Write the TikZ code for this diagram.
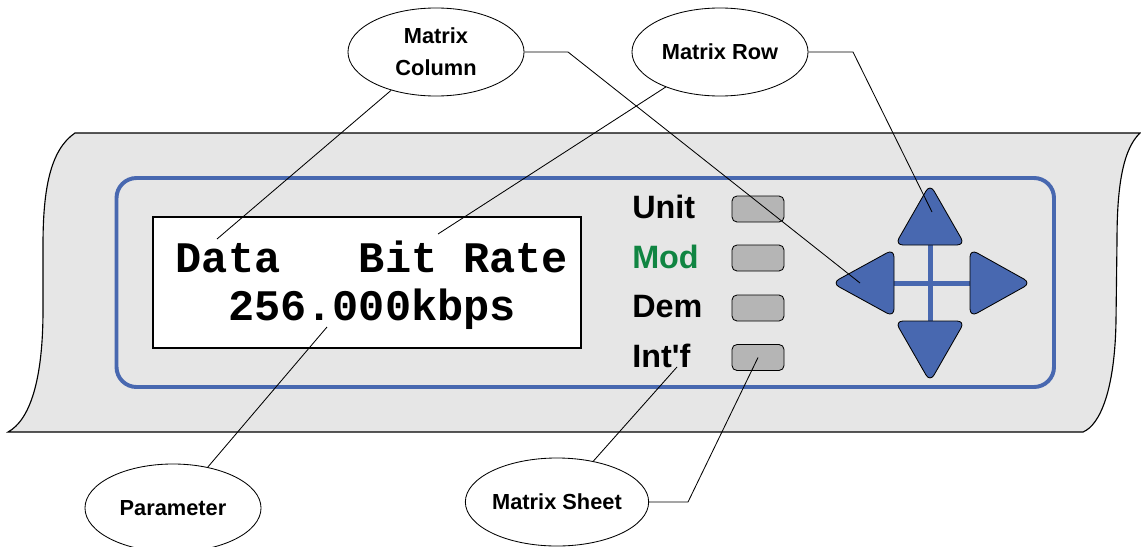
\documentclass[tikz,border=0pt]{standalone}
\usepackage{fontspec}
\setmainfont{Liberation Sans}
\setmonofont{Liberation Mono}
\usetikzlibrary{shapes.geometric}
\definecolor{panelgray}{RGB}{230,230,230}
\definecolor{padblue}{RGB}{72,104,176}
\definecolor{modgreen}{RGB}{16,133,66}
\definecolor{btngray}{RGB}{181,181,181}
\begin{document}
\begin{tikzpicture}[x=0.025cm,y=-0.025cm,
  callout/.style={draw,ellipse,fill=white,line width=0.6pt,minimum width=4.4cm,minimum height=2.2cm,inner sep=0pt,align=center,font=\fontsize{15.5}{22.8}\selectfont\bfseries},
  keylbl/.style={anchor=base west,inner sep=0pt,font=\fontsize{23}{27}\selectfont\bfseries},
  lcd/.style={anchor=base,inner sep=0pt,font=\fontsize{31}{36}\selectfont\ttfamily\bfseries},
  btn/.style={draw,fill=btngray,rounded corners=0.125cm,line width=0.6pt,minimum width=1.3cm,minimum height=0.65cm,inner sep=0pt},
  navtri/.style={draw,fill=padblue,rounded corners=0.2cm,line width=0.6pt},
  lead/.style={line width=0.6pt}]
%\draw[step=50,gray,very thin] (0,0) grid (1141,546); %background grid
\useasboundingbox (0,0) rectangle (1141,546);
% panel
\draw[fill=panelgray,line width=0.8pt] (75,133) -- (1140,133) .. controls (1122,150) and (1117,190) .. (1117,240) -- (1116,320) .. controls (1115,390) and (1100,425) .. (1083,432) -- (8,432) .. controls (30,420) and (43,380) .. (43,310) -- (43,245) .. controls (43,190) and (50,150) .. cycle;
\draw[padblue,line width=2.8pt,rounded corners=0.5cm] (116.5,178) rectangle (1054,387);
% display
\draw[fill=white,line width=0.8pt] (153,217) rectangle (581,348);
\node[lcd] (lcdtop) at (372,272) {Data\ \ \ Bit Rate};
\node[lcd] (lcdbot) at (372,320) {256.000kbps};
% keys
\node[keylbl] (unit) at (632,218) {Unit};
\node[keylbl,text=modgreen] (mod) at (632,268) {Mod};
\node[keylbl] (dem) at (632,317) {Dem};
\node[keylbl] (intf) at (632,367) {Int\textquotesingle f};
\foreach \nm/\yy in {unit/209,mod/258,dem/308,intf/357.5}
  \node[btn] (b\nm) at (758,\yy) {};
% arrow pad
\fill[padblue] (927.5,243) rectangle (932.5,323);
\fill[padblue] (892,280.5) rectangle (972,285.5);
\draw[navtri] (930,184) -- (965,245) -- (895,245) -- cycle;
\draw[navtri] (930,382) -- (895,321) -- (965,321) -- cycle;
\draw[navtri] (832,283) -- (894,249) -- (894,317) -- cycle;
\draw[navtri] (1031,283) -- (970,249) -- (970,317) -- cycle;
% callouts
\node[callout] (mcol) at (436,52) {Matrix\\Column};
\node[callout] (mrow) at (720,52) {Matrix Row};
\node[callout] (param) at (173,508) {Parameter};
\node[callout] (msheet) at (557,502) {Matrix Sheet};
\coordinate (colTip) at (217,239);
\coordinate (rowTip) at (438,234);
\coordinate (parTip) at (327,327);
\coordinate (intfTip) at (677,367);
\coordinate (colBend) at (568,52);
\coordinate (leftTip) at (860,283);
\coordinate (rowBend) at (853,52);
\coordinate (upTip) at (932,212);
\coordinate (sheetBend) at (688,502);
\draw[lead] (mcol) -- (colTip);
\draw[lead] (mcol.east) -- (colBend) -- (leftTip);
\draw[lead] (mrow) -- (rowTip);
\draw[lead] (mrow.east) -- (rowBend) -- (upTip);
\draw[lead] (param) -- (parTip);
\draw[lead] (msheet) -- (intfTip);
\draw[lead] (msheet.east) -- (sheetBend) -- (bintf.center);
\end{tikzpicture}
\end{document}
